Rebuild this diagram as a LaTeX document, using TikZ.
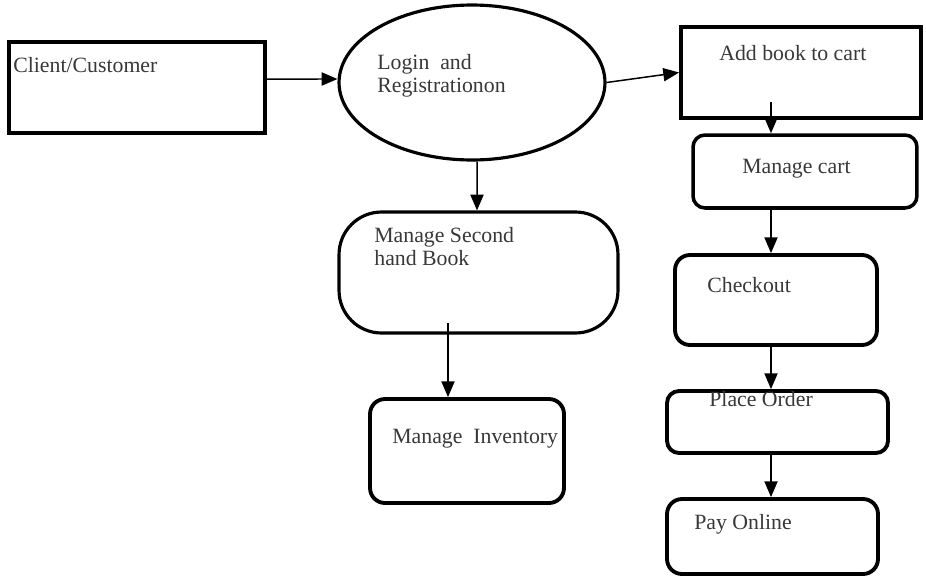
\documentclass[tikz,border=0pt]{standalone}
\usepackage{fontspec}
\setmainfont{Liberation Serif}
\usetikzlibrary{arrows.meta,shapes.geometric}

\begin{document}
\begin{tikzpicture}[x=0.02cm, y=-0.02cm,
    >={Triangle[length=9pt,width=7.5pt]},
    box/.style={draw, line width=2.2pt, inner sep=0pt},
    rbox/.style={box, rounded corners=#1},
    txt/.style={anchor=base west, inner sep=0pt, text=black!78,
      font=\fontsize{12.4}{13}\selectfont, align=left},
    arr/.style={->, line width=0.85pt}]
  \useasboundingbox (0,0) rectangle (926,575);

  % Boxes
  \node[box, minimum width=5.12cm, minimum height=1.82cm] (client) at (137,87.5) {};
  \node[draw, ellipse, line width=1.8pt, inner sep=0pt,
        minimum width=5.32cm, minimum height=3.1cm] (login) at (472,82.5) {};
  \node[box, minimum width=4.8cm, minimum height=1.82cm] (addbook) at (801,72.5) {};
  \node[rbox=0.24cm, line width=2pt, minimum width=4.48cm, minimum height=1.46cm] (cart) at (805,171.5) {};
  \node[rbox=0.85cm, line width=1.8pt, minimum width=5.58cm, minimum height=2.42cm] (second) at (478.5,272.5) {};
  \node[rbox=0.3cm, minimum width=3.88cm, minimum height=2.08cm] (inventory) at (467,451) {};
  \node[rbox=0.3cm, minimum width=4.04cm, minimum height=1.8cm] (checkout) at (776,300) {};
  \node[rbox=0.24cm, minimum width=4.42cm, minimum height=1.24cm] (order) at (777.5,422) {};
  \node[rbox=0.3cm, minimum width=4.22cm, minimum height=1.5cm] (pay) at (772.5,536.5) {};

  % Texts (two-line ones sit on their last baseline)
  \node[txt] (clientTxt) at (13,72) {Client/Customer};
  \node[txt] (loginTxt) at (377,92) {Login~ and\\Registrationon};
  \node[txt] (addbookTxt) at (719,60) {Add book to cart};
  \node[txt] (cartTxt) at (742,173) {Manage cart};
  \node[txt] (secondTxt) at (374,265) {Manage Second\\hand Book};
  \node[txt] (inventoryTxt) at (392,443) {Manage~ Inventory};
  \node[txt] (checkoutTxt) at (707,292) {Checkout};
  \node[txt] (orderTxt) at (709,406) {Place Order};
  \node[txt] (payTxt) at (694,529) {Pay Online};

  % Arrows
  \coordinate (cartcol) at (771,102);
  \coordinate (stockcol) at (448,323);
  \draw[arr] ([yshift=0.17cm]client.east) -- ([yshift=0.07cm]login.west);
  \draw[arr] (login.east) -- (addbook.west);
  \draw[arr] ([xshift=0.1cm]login.south) -- (second.north -| 477,0);
  \draw[arr] (stockcol) -- (inventory.north -| stockcol);
  \draw[arr] (cartcol) -- (cart.north -| cartcol);
  \draw[arr] (cart.south -| cartcol) -- (checkout.north -| cartcol);
  \draw[arr] (checkout.south -| cartcol) -- (order.north -| cartcol);
  \draw[arr] (order.south -| cartcol) -- (pay.north -| cartcol);
\end{tikzpicture}
\end{document}
